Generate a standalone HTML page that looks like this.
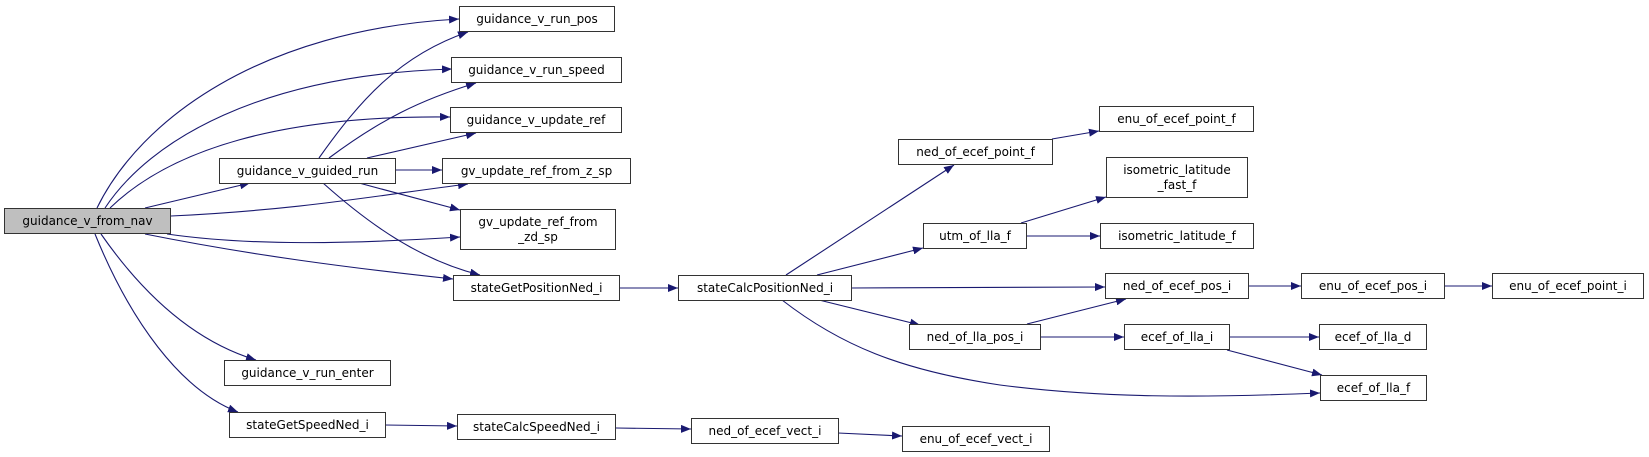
<!DOCTYPE html>
<html><head><meta charset="utf-8"><style>
html,body{margin:0;padding:0;background:#fff;}
svg{display:block;}
text{font-family:"DejaVu Sans","Liberation Sans",sans-serif;font-size:12px;fill:#000;}
</style></head><body>
<svg width="1649" height="457" viewBox="0 0 1649 457" xmlns="http://www.w3.org/2000/svg">
<defs>
<marker id="a" viewBox="0 0 10 8" refX="10" refY="4" markerWidth="10" markerHeight="8" markerUnits="userSpaceOnUse" orient="auto">
<path d="M0,0 L10,4 L0,8 Z" fill="#191970"/>
</marker>
</defs>
<g fill="none" stroke="#191970" stroke-width="1.1" marker-end="url(#a)">
<path d="M97,208 C140,120 260,30 459,19"/>
<path d="M105,208 C150,140 260,75 452,69"/>
<path d="M110,208 C170,150 280,115 450,117"/>
<path d="M145,208 L250,183"/>
<path d="M171,216 C300,210 380,195 468,184"/>
<path d="M167,234 C250,246 350,244 460,237"/>
<path d="M145,234 C250,255 350,268 453,279"/>
<path d="M101,234 C140,290 190,340 256,360"/>
<path d="M95,234 C130,320 180,390 238,412"/>
<path d="M319,158 C360,100 400,55 468,32"/>
<path d="M329,158 C380,120 420,100 476,83"/>
<path d="M367,158 L476,133"/>
<path d="M395,170 L442,170"/>
<path d="M359,183 L460,210"/>
<path d="M323,183 C370,225 420,260 480,275"/>
<path d="M619,288 L678,288"/>
<path d="M385,425 L457,426"/>
<path d="M616,428 L691,429"/>
<path d="M838,433 L902,436"/>
<path d="M786,275 L954,165"/>
<path d="M817,275 L923,248"/>
<path d="M851,288 L1105,287"/>
<path d="M819,300 L920,325"/>
<path d="M782,300 C840,345 900,370 1000,385 C1100,398 1200,398 1320,393"/>
<path d="M1052,139 L1099,131"/>
<path d="M1021,223 L1106,197"/>
<path d="M1026,236 L1100,236"/>
<path d="M1027,324 L1126,299"/>
<path d="M1040,337 L1124,337"/>
<path d="M1248,286 L1301,286"/>
<path d="M1444,286 L1492,286"/>
<path d="M1229,337 L1319,337"/>
<path d="M1227,350 L1322,375"/>
</g>
<g stroke="#333" stroke-width="1" fill="#fff">
<rect x="4.5" y="208.5" width="166" height="25" fill="#bfbfbf"/>
<rect x="459.5" y="6.5" width="155" height="25"/>
<rect x="451.5" y="57.5" width="170" height="25"/>
<rect x="450.5" y="107.5" width="171" height="25"/>
<rect x="442.5" y="158.5" width="188" height="25"/>
<rect x="460.5" y="209.5" width="155" height="40"/>
<rect x="453.5" y="275.5" width="166" height="25"/>
<rect x="219.5" y="158.5" width="176" height="25"/>
<rect x="224.5" y="360.5" width="166" height="25"/>
<rect x="229.5" y="412.5" width="156" height="25"/>
<rect x="457.5" y="414.5" width="158" height="25"/>
<rect x="678.5" y="275.5" width="173" height="25"/>
<rect x="898.5" y="139.5" width="154" height="25"/>
<rect x="923.5" y="223.5" width="103" height="25"/>
<rect x="909.5" y="324.5" width="131" height="25"/>
<rect x="691.5" y="418.5" width="147" height="25"/>
<rect x="902.5" y="426.5" width="147" height="25"/>
<rect x="1099.5" y="106.5" width="154" height="25"/>
<rect x="1106.5" y="157.5" width="141" height="40"/>
<rect x="1100.5" y="223.5" width="153" height="25"/>
<rect x="1105.5" y="273.5" width="143" height="25"/>
<rect x="1301.5" y="273.5" width="143" height="25"/>
<rect x="1492.5" y="273.5" width="151" height="25"/>
<rect x="1124.5" y="324.5" width="105" height="25"/>
<rect x="1319.5" y="324.5" width="107" height="25"/>
<rect x="1320.5" y="375.5" width="106" height="25"/>
</g>
<g text-anchor="middle">
<text x="87.5" y="225">guidance_v_from_nav</text>
<text x="537" y="23">guidance_v_run_pos</text>
<text x="536.5" y="74">guidance_v_run_speed</text>
<text x="536" y="124">guidance_v_update_ref</text>
<text x="536.5" y="175">gv_update_ref_from_z_sp</text>
<text x="538" y="226">gv_update_ref_from</text>
<text x="538" y="241">_zd_sp</text>
<text x="536.5" y="292">stateGetPositionNed_i</text>
<text x="307.5" y="175">guidance_v_guided_run</text>
<text x="307.5" y="377">guidance_v_run_enter</text>
<text x="307.5" y="429">stateGetSpeedNed_i</text>
<text x="536.5" y="431">stateCalcSpeedNed_i</text>
<text x="765" y="292">stateCalcPositionNed_i</text>
<text x="975.5" y="156">ned_of_ecef_point_f</text>
<text x="975" y="240">utm_of_lla_f</text>
<text x="975" y="341">ned_of_lla_pos_i</text>
<text x="765" y="435">ned_of_ecef_vect_i</text>
<text x="976" y="443">enu_of_ecef_vect_i</text>
<text x="1176.5" y="123">enu_of_ecef_point_f</text>
<text x="1177" y="174">isometric_latitude</text>
<text x="1177" y="189">_fast_f</text>
<text x="1177" y="240">isometric_latitude_f</text>
<text x="1177" y="290">ned_of_ecef_pos_i</text>
<text x="1373" y="290">enu_of_ecef_pos_i</text>
<text x="1568" y="290">enu_of_ecef_point_i</text>
<text x="1177" y="341">ecef_of_lla_i</text>
<text x="1373" y="341">ecef_of_lla_d</text>
<text x="1373.5" y="392">ecef_of_lla_f</text>
</g>
</svg>
</body></html>
